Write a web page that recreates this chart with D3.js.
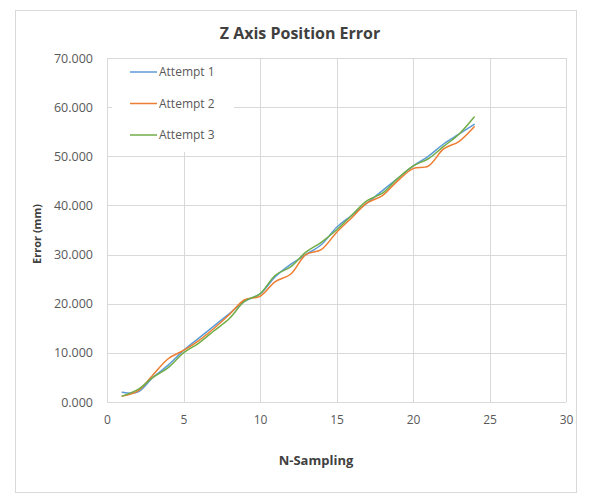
<!DOCTYPE html>
<html>
<head>
<meta charset="utf-8">
<script src="https://cdn.jsdelivr.net/npm/d3@7"></script>
<style>
  html, body { margin: 0; padding: 0; background: #fff; }
  svg { display: block; }
  text { font-family: "Open Sans", "Liberation Sans", sans-serif; }
</style>
</head>
<body>
<svg id="chart" width="589" height="495"></svg>
<script>
// Sample index (N-Sampling)
const samples = d3.range(1, 25);

// Measured Z axis error (mm) for each attempt
const attempt1 = [2.0, 2.0, 5.0, 7.5, 10.5, 13.0, 15.5, 18.0, 20.5, 22.0, 25.5, 28.0,
                  30.0, 32.0, 35.5, 38.0, 40.5, 43.0, 45.5, 48.0, 50.0, 52.5, 54.5, 56.5];
const attempt2 = [1.2, 2.2, 5.5, 8.8, 10.5, 12.5, 15.0, 17.8, 20.8, 21.5, 24.5, 26.0,
                  30.0, 31.0, 34.5, 37.5, 40.5, 42.0, 45.0, 47.5, 48.0, 51.5, 53.0, 56.0];
const attempt3 = [1.2, 2.5, 5.0, 7.0, 10.0, 12.0, 14.5, 17.0, 20.5, 22.0, 25.8, 27.5,
                  30.5, 32.5, 35.0, 38.0, 41.0, 42.5, 45.5, 48.0, 49.5, 52.0, 54.5, 58.0];

const seriesNames = ["Attempt 1", "Attempt 2", "Attempt 3"];
const seriesColors = ["#5B9BD5", "#ED7D31", "#70AD47"];

const xTicks = [0, 5, 10, 15, 20, 25, 30];
const yTicks = [0, 10, 20, 30, 40, 50, 60, 70];

const series = [attempt1, attempt2, attempt3].map((vals, i) => ({
  name: seriesNames[i],
  color: seriesColors[i],
  points: samples.map((s, j) => ({ x: s, y: vals[j] }))
}));

const svg = d3.select("#chart");

// Outer chart frame
svg.append("rect")
  .attr("x", 15.5).attr("y", 10.5)
  .attr("width", 561).attr("height", 482)
  .attr("fill", "#fff").attr("stroke", "#d9d9d9");

const plot = { left: 107, right: 566, top: 58, bottom: 402 };

const x = d3.scaleLinear().domain([0, 30]).range([plot.left, plot.right]);
const y = d3.scaleLinear().domain([0, 70]).range([plot.bottom, plot.top]);

// Gridlines
svg.append("g")
  .selectAll("line")
  .data(yTicks)
  .join("line")
  .attr("x1", plot.left).attr("x2", plot.right)
  .attr("y1", d => Math.round(y(d)) + 0.5).attr("y2", d => Math.round(y(d)) + 0.5)
  .attr("stroke", "#d9d9d9").attr("stroke-width", 1);

svg.append("g")
  .selectAll("line")
  .data(xTicks)
  .join("line")
  .attr("x1", d => Math.round(x(d)) + 0.5).attr("x2", d => Math.round(x(d)) + 0.5)
  .attr("y1", plot.top).attr("y2", plot.bottom)
  .attr("stroke", "#d9d9d9").attr("stroke-width", 1);

// Axes (labels only; lines come from the grid)
const yAxis = d3.axisLeft(y).tickValues(yTicks)
  .tickFormat(d3.format(".3f")).tickSize(0).tickPadding(14);
svg.append("g")
  .attr("transform", `translate(${plot.left},0)`)
  .call(yAxis)
  .call(g => g.select(".domain").remove())
  .call(g => g.selectAll("text")
    .attr("fill", "#595959").attr("font-size", 12.5)
    .style("font-family", "'Open Sans', sans-serif"));

const xAxis = d3.axisBottom(x).tickValues(xTicks)
  .tickFormat(d3.format("d")).tickSize(0).tickPadding(13);
svg.append("g")
  .attr("transform", `translate(0,${plot.bottom})`)
  .call(xAxis)
  .call(g => g.select(".domain").remove())
  .call(g => g.selectAll("text")
    .attr("fill", "#595959").attr("font-size", 12)
    .style("font-family", "'Open Sans', sans-serif"));

// Legend box sits over the grid in the top-left corner
svg.append("rect")
  .attr("x", 112).attr("y", 59).attr("width", 122).attr("height", 93)
  .attr("fill", "#fff");

// Series lines
const line = d3.line()
  .x(d => x(d.x)).y(d => y(d.y))
  .curve(d3.curveCatmullRom.alpha(0.5));

svg.append("g")
  .selectAll("path")
  .data(series)
  .join("path")
  .attr("d", d => line(d.points))
  .attr("fill", "none")
  .attr("stroke", d => d.color)
  .attr("stroke-width", 1.5)
  .attr("stroke-linejoin", "round")
  .attr("stroke-linecap", "round");

// Title
svg.append("text")
  .attr("x", 300).attr("y", 39)
  .attr("text-anchor", "middle")
  .attr("font-size", 16).attr("font-weight", "bold")
  .attr("fill", "#404040")
  .text("Z Axis Position Error");

// Axis titles
svg.append("text")
  .attr("x", 316).attr("y", 465)
  .attr("text-anchor", "middle")
  .attr("font-size", 13).attr("font-weight", "bold")
  .attr("fill", "#404040")
  .text("N-Sampling");

svg.append("text")
  .attr("transform", `translate(41,234) rotate(-90)`)
  .attr("text-anchor", "middle")
  .attr("font-size", 11).attr("font-weight", "bold")
  .attr("fill", "#404040")
  .text("Error (mm)");

// Legend entries
const legend = svg.append("g")
  .selectAll("g")
  .data(series)
  .join("g")
  .attr("transform", (d, i) => `translate(130,${72 + i * 31.5})`);

legend.append("line")
  .attr("x1", 0).attr("x2", 27).attr("y1", 0).attr("y2", 0)
  .attr("stroke", d => d.color).attr("stroke-width", 1.5);

legend.append("text")
  .attr("x", 29).attr("y", 0).attr("dy", "0.35em")
  .attr("font-size", 12).attr("fill", "#595959")
  .text(d => d.name);
</script>
</body>
</html>
